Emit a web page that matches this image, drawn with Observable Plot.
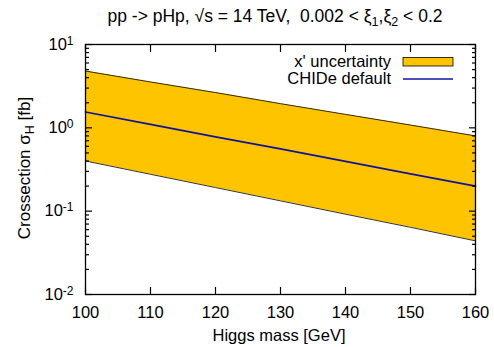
<!DOCTYPE html>
<html><head><meta charset="utf-8">
<script src="https://cdn.jsdelivr.net/npm/d3@7"></script>
<script src="https://cdn.jsdelivr.net/npm/@observablehq/plot@0.6"></script>
<style>body{margin:0;background:#fff}svg{font-family:"Liberation Sans",Arial,sans-serif}</style>
</head><body><div id="chart"></div>
<script>
const mass = [100, 110, 120, 130, 140, 150, 160];
const upper = [4.8, 3.55, 2.65, 1.95, 1.45, 1.08, 0.8];
const central = [1.55, 1.1, 0.78, 0.56, 0.395, 0.28, 0.2];
const lower = [0.40, 0.277, 0.192, 0.133, 0.092, 0.064, 0.044];
const xTicks = [100, 110, 120, 130, 140, 150, 160];
const yMajor = [0.01, 0.1, 1, 10];
const yExp = ["-2", "-1", "0", "1"];
const yMinor = [];
for (const d of [0.01, 0.1, 1]) for (let k = 2; k <= 9; k++) yMinor.push(d * k);

const data = mass.map((m, i) => ({m, up: upper[i], c: central[i], lo: lower[i]}));

const W = 494, H = 347, mL = 85, mR = 19, mT = 44, mB = 53;
const fs = 16.5;
const bandColor = "#ffc400", lineColor = "#12129a";
const none = () => "";
const tw = 1.2;

const plot = Plot.plot({
  width: W, height: H,
  marginLeft: mL, marginRight: mR, marginTop: mT, marginBottom: mB,
  style: {fontSize: fs + "px", fontFamily: "Liberation Sans, Arial, sans-serif", color: "#000", background: "#fff"},
  x: {domain: [100, 160]},
  y: {type: "log", domain: [0.01, 10]},
  marks: [
    Plot.areaY(data, {x: "m", y1: "lo", y2: "up", fill: bandColor}),
    Plot.line(data, {x: "m", y: "up", stroke: "#000", strokeWidth: 0.8}),
    Plot.line(data, {x: "m", y: "lo", stroke: "#000", strokeWidth: 0.8}),
    Plot.line(data, {x: "m", y: "c", stroke: lineColor, strokeWidth: 1.7}),
    // inward ticks (axis shifted inside the frame)
    Plot.axisX({anchor: "bottom", ticks: xTicks, tickSize: 7, dy: -7, strokeWidth: tw, tickFormat: none, label: null}),
    Plot.axisX({anchor: "top", ticks: xTicks, tickSize: 7, dy: 7, strokeWidth: tw, tickFormat: none, label: null}),
    Plot.axisY({anchor: "left", ticks: yMajor, tickSize: 7, dx: 7, strokeWidth: tw, tickFormat: none, label: null}),
    Plot.axisY({anchor: "right", ticks: yMajor, tickSize: 7, dx: -7, strokeWidth: tw, tickFormat: none, label: null}),
    Plot.axisY({anchor: "left", ticks: yMinor, tickSize: 4, dx: 4, strokeWidth: tw, tickFormat: none, label: null}),
    Plot.axisY({anchor: "right", ticks: yMinor, tickSize: 4, dx: -4, strokeWidth: tw, tickFormat: none, label: null}),
    // tick labels
    Plot.axisX({anchor: "bottom", ticks: xTicks, tickSize: 0, tickPadding: 12, tickFormat: d => String(d), label: null}),
    Plot.axisY({anchor: "left", ticks: yMajor, tickSize: 0, tickPadding: 12, tickFormat: () => "10", label: null, className: "ymaj"}),
    Plot.frame({stroke: "#000", strokeWidth: 1.3})
  ]
});
document.getElementById("chart").appendChild(plot);

const svg = d3.select(plot);
// superscripts on y tick labels
svg.selectAll(".ymaj text").each(function(d, i) {
  const t = d3.select(this);
  t.text("10");
  t.append("tspan").attr("dy", "-0.42em").attr("font-size", "12px").text(yExp[i]);
});
// title
const title = svg.append("text").attr("x", 275).attr("y", 22).attr("text-anchor", "middle")
  .attr("font-size", 17.5).attr("fill", "#000");
title.append("tspan").text("pp -> pHp, \u221As = 14 TeV,  0.002 < \u03BE");
title.append("tspan").attr("font-size", 12.5).attr("dy", 4).text("1");
title.append("tspan").attr("dy", -4).text(",\u03BE");
title.append("tspan").attr("font-size", 12.5).attr("dy", 4).text("2");
title.append("tspan").attr("dy", -4).text(" < 0.2");
// x label
svg.append("text").attr("x", 279).attr("y", 341).attr("text-anchor", "middle")
  .attr("font-size", 16.5).attr("fill", "#000").text("Higgs mass [GeV]");
// y label
const yl = svg.append("text").attr("transform", "translate(30,168) rotate(-90)")
  .attr("text-anchor", "middle").attr("font-size", 17).attr("fill", "#000");
yl.append("tspan").text("Crossection \u03C3");
yl.append("tspan").attr("font-size", 12.5).attr("dy", 4).text("H");
yl.append("tspan").attr("dy", -4).text(" [fb]");
// legend
const lg = svg.append("g").attr("font-size", 16.5).attr("fill", "#000");
lg.append("text").attr("x", 391).attr("y", 67).attr("text-anchor", "end").text("x' uncertainty");
lg.append("rect").attr("x", 403).attr("y", 57.5).attr("width", 50).attr("height", 8.5)
  .attr("fill", bandColor).attr("stroke", "#000").attr("stroke-width", 0.8);
lg.append("text").attr("x", 391).attr("y", 84).attr("text-anchor", "end").text("CHIDe default");
lg.append("line").attr("x1", 403).attr("x2", 453).attr("y1", 79).attr("y2", 79)
  .attr("stroke", lineColor).attr("stroke-width", 1.7);
</script></body></html>
